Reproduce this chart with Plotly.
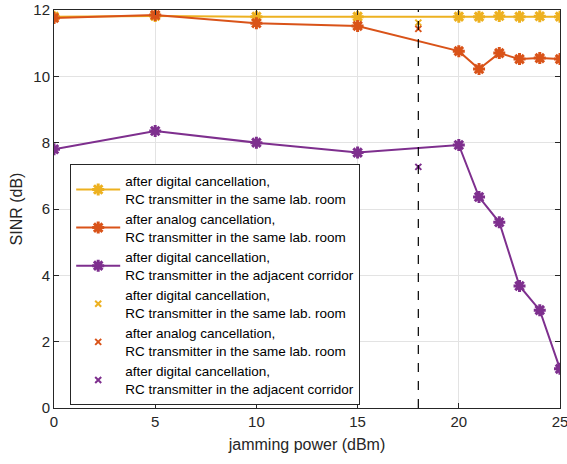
import plotly.graph_objects as go

x_power = [0, 5, 10, 15, 20, 21, 22, 23, 24, 25]
digital_same = [11.80, 11.82, 11.80, 11.80, 11.80, 11.80, 11.82, 11.80, 11.81, 11.80]
analog_same = [11.76, 11.85, 11.60, 11.52, 10.76, 10.22, 10.70, 10.52, 10.55, 10.52]
digital_corr = [7.80, 8.35, 8.00, 7.70, 7.93, 6.36, 5.60, 3.68, 2.95, 1.18]

x_single = [18]
digital_same_single = [11.62]
analog_same_single = [11.43]
digital_corr_single = [7.27]

vline_x = 18

labels = [
    "after digital cancellation,<br>RC transmitter in the same lab. room",
    "after analog cancellation,<br>RC transmitter in the same lab. room",
    "after digital cancellation,<br>RC transmitter in the adjacent corridor",
]
colors = ["#EDB120", "#D95319", "#7E2F8E"]

fig = go.Figure()
for ys, lab, c in zip([digital_same, analog_same, digital_corr], labels, colors):
    fig.add_trace(go.Scatter(
        x=x_power, y=ys, mode="lines+markers", name=lab,
        line=dict(color=c, width=2),
        marker=dict(symbol="asterisk-open", size=10, color=c, line=dict(color=c, width=3)),
    ))
for ys, lab, c in zip([digital_same_single, analog_same_single, digital_corr_single], labels, colors):
    fig.add_trace(go.Scatter(
        x=x_single, y=ys, mode="markers", name=lab,
        marker=dict(symbol="x-thin-open", size=6, color=c, line=dict(color=c, width=2)),
    ))

fig.add_shape(type="line", x0=vline_x, x1=vline_x, y0=0, y1=12, xref="x", yref="y",
              line=dict(color="black", width=1.2, dash="dash"))

axis_common = dict(
    showline=True, linecolor="#262626", linewidth=1, mirror="ticks",
    ticks="inside", ticklen=5, tickcolor="#262626",
    showgrid=True, gridcolor="#E3E3E3", gridwidth=1, zeroline=False,
    tickfont=dict(size=15, color="#262626"), ticklabeloverflow="allow",
    automargin=False,
)
fig.update_xaxes(range=[0, 25], dtick=5,
                 title=dict(text="jamming power (dBm)", font=dict(size=16, color="#262626"), standoff=9),
                 **axis_common)
fig.update_yaxes(range=[0, 12], dtick=2,
                 title=dict(text="SINR (dB)", font=dict(size=16, color="#262626"), standoff=6),
                 **axis_common)

fig.update_layout(
    width=567, height=464,
    margin=dict(l=54, r=7, t=10, b=56),
    paper_bgcolor="white", plot_bgcolor="white",
    font=dict(family="Liberation Sans, Arial, sans-serif", color="#262626"),
    showlegend=True,
    legend=dict(
        x=0.032, y=0.612, xanchor="left", yanchor="top",
        bgcolor="white", bordercolor="#262626", borderwidth=1,
        font=dict(size=13.5, color="#000000"),
        tracegroupgap=0, itemwidth=44,
    ),
)

fig.write_html("out.html")
